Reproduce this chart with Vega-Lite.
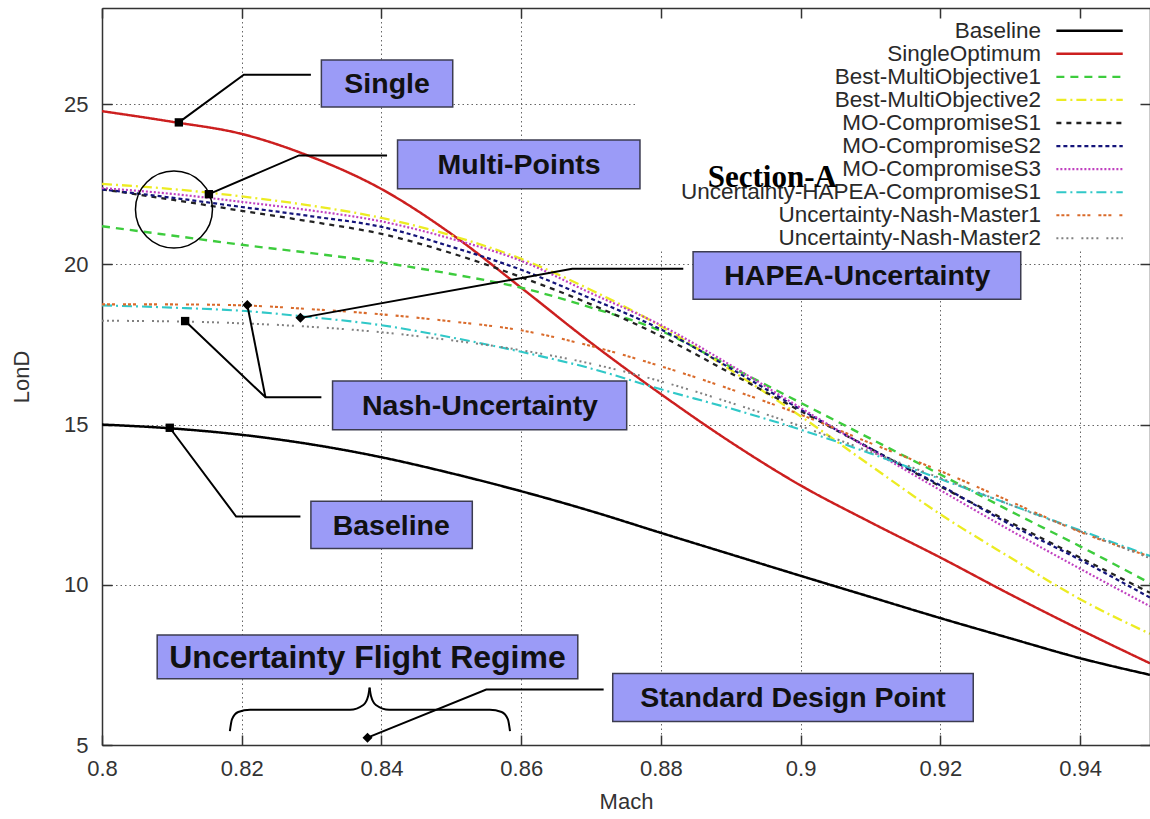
{
  "$schema": "https://vega.github.io/schema/vega-lite/v6.json",
  "width": 1048,
  "height": 737,
  "autosize": {"type": "none"},
  "padding": {"left": 102, "top": 8, "right": 0, "bottom": 74},
  "background": "white",
  "config": {"view": {"stroke": null}, "font": "Liberation Sans"},
  "datasets": {
    "curves": [
      {"series":"Baseline","mach":0.8,"lond":15.0},{"series":"Baseline","mach":0.81,"lond":14.88},{"series":"Baseline","mach":0.82,"lond":14.68},{"series":"Baseline","mach":0.83,"lond":14.38},{"series":"Baseline","mach":0.84,"lond":13.98},{"series":"Baseline","mach":0.85,"lond":13.48},{"series":"Baseline","mach":0.86,"lond":12.92},{"series":"Baseline","mach":0.87,"lond":12.3},{"series":"Baseline","mach":0.88,"lond":11.62},{"series":"Baseline","mach":0.89,"lond":10.95},{"series":"Baseline","mach":0.9,"lond":10.28},{"series":"Baseline","mach":0.91,"lond":9.62},{"series":"Baseline","mach":0.92,"lond":8.96},{"series":"Baseline","mach":0.93,"lond":8.33},{"series":"Baseline","mach":0.94,"lond":7.71},{"series":"Baseline","mach":0.95,"lond":7.19},
      {"series":"SingleOptimum","mach":0.8,"lond":24.78},{"series":"SingleOptimum","mach":0.81,"lond":24.45},{"series":"SingleOptimum","mach":0.82,"lond":24.07},{"series":"SingleOptimum","mach":0.83,"lond":23.35},{"series":"SingleOptimum","mach":0.84,"lond":22.35},{"series":"SingleOptimum","mach":0.85,"lond":20.95},{"series":"SingleOptimum","mach":0.86,"lond":19.27},{"series":"SingleOptimum","mach":0.87,"lond":17.55},{"series":"SingleOptimum","mach":0.88,"lond":15.95},{"series":"SingleOptimum","mach":0.89,"lond":14.45},{"series":"SingleOptimum","mach":0.9,"lond":13.1},{"series":"SingleOptimum","mach":0.91,"lond":11.95},{"series":"SingleOptimum","mach":0.92,"lond":10.85},{"series":"SingleOptimum","mach":0.93,"lond":9.7},{"series":"SingleOptimum","mach":0.94,"lond":8.6},{"series":"SingleOptimum","mach":0.95,"lond":7.55},
      {"series":"Best-MultiObjective1","mach":0.8,"lond":21.19},{"series":"Best-MultiObjective1","mach":0.81,"lond":20.9},{"series":"Best-MultiObjective1","mach":0.82,"lond":20.61},{"series":"Best-MultiObjective1","mach":0.83,"lond":20.35},{"series":"Best-MultiObjective1","mach":0.84,"lond":20.06},{"series":"Best-MultiObjective1","mach":0.85,"lond":19.7},{"series":"Best-MultiObjective1","mach":0.86,"lond":19.27},{"series":"Best-MultiObjective1","mach":0.87,"lond":18.65},{"series":"Best-MultiObjective1","mach":0.88,"lond":17.92},{"series":"Best-MultiObjective1","mach":0.89,"lond":16.8},{"series":"Best-MultiObjective1","mach":0.9,"lond":15.68},{"series":"Best-MultiObjective1","mach":0.91,"lond":14.56},{"series":"Best-MultiObjective1","mach":0.92,"lond":13.44},{"series":"Best-MultiObjective1","mach":0.93,"lond":12.3},{"series":"Best-MultiObjective1","mach":0.94,"lond":11.2},{"series":"Best-MultiObjective1","mach":0.95,"lond":10.05},
      {"series":"Best-MultiObjective2","mach":0.8,"lond":22.51},{"series":"Best-MultiObjective2","mach":0.81,"lond":22.35},{"series":"Best-MultiObjective2","mach":0.82,"lond":22.12},{"series":"Best-MultiObjective2","mach":0.83,"lond":21.83},{"series":"Best-MultiObjective2","mach":0.84,"lond":21.45},{"series":"Best-MultiObjective2","mach":0.85,"lond":20.9},{"series":"Best-MultiObjective2","mach":0.86,"lond":20.17},{"series":"Best-MultiObjective2","mach":0.87,"lond":19.2},{"series":"Best-MultiObjective2","mach":0.88,"lond":18.07},{"series":"Best-MultiObjective2","mach":0.89,"lond":16.7},{"series":"Best-MultiObjective2","mach":0.9,"lond":15.26},{"series":"Best-MultiObjective2","mach":0.91,"lond":13.72},{"series":"Best-MultiObjective2","mach":0.92,"lond":12.2},{"series":"Best-MultiObjective2","mach":0.93,"lond":10.85},{"series":"Best-MultiObjective2","mach":0.94,"lond":9.55},{"series":"Best-MultiObjective2","mach":0.95,"lond":8.47},
      {"series":"MO-CompromiseS1","mach":0.8,"lond":22.34},{"series":"MO-CompromiseS1","mach":0.81,"lond":22.02},{"series":"MO-CompromiseS1","mach":0.82,"lond":21.67},{"series":"MO-CompromiseS1","mach":0.83,"lond":21.33},{"series":"MO-CompromiseS1","mach":0.84,"lond":20.95},{"series":"MO-CompromiseS1","mach":0.85,"lond":20.35},{"series":"MO-CompromiseS1","mach":0.86,"lond":19.6},{"series":"MO-CompromiseS1","mach":0.87,"lond":18.75},{"series":"MO-CompromiseS1","mach":0.88,"lond":17.76},{"series":"MO-CompromiseS1","mach":0.89,"lond":16.6},{"series":"MO-CompromiseS1","mach":0.9,"lond":15.42},{"series":"MO-CompromiseS1","mach":0.91,"lond":14.25},{"series":"MO-CompromiseS1","mach":0.92,"lond":13.07},{"series":"MO-CompromiseS1","mach":0.93,"lond":11.95},{"series":"MO-CompromiseS1","mach":0.94,"lond":10.85},{"series":"MO-CompromiseS1","mach":0.95,"lond":9.75},
      {"series":"MO-CompromiseS2","mach":0.8,"lond":22.34},{"series":"MO-CompromiseS2","mach":0.81,"lond":22.08},{"series":"MO-CompromiseS2","mach":0.82,"lond":21.79},{"series":"MO-CompromiseS2","mach":0.83,"lond":21.5},{"series":"MO-CompromiseS2","mach":0.84,"lond":21.17},{"series":"MO-CompromiseS2","mach":0.85,"lond":20.55},{"series":"MO-CompromiseS2","mach":0.86,"lond":19.83},{"series":"MO-CompromiseS2","mach":0.87,"lond":18.93},{"series":"MO-CompromiseS2","mach":0.88,"lond":17.97},{"series":"MO-CompromiseS2","mach":0.89,"lond":16.75},{"series":"MO-CompromiseS2","mach":0.9,"lond":15.47},{"series":"MO-CompromiseS2","mach":0.91,"lond":14.25},{"series":"MO-CompromiseS2","mach":0.92,"lond":13.1},{"series":"MO-CompromiseS2","mach":0.93,"lond":11.88},{"series":"MO-CompromiseS2","mach":0.94,"lond":10.78},{"series":"MO-CompromiseS2","mach":0.95,"lond":9.6},
      {"series":"MO-CompromiseS3","mach":0.8,"lond":22.38},{"series":"MO-CompromiseS3","mach":0.81,"lond":22.2},{"series":"MO-CompromiseS3","mach":0.82,"lond":21.95},{"series":"MO-CompromiseS3","mach":0.83,"lond":21.68},{"series":"MO-CompromiseS3","mach":0.84,"lond":21.34},{"series":"MO-CompromiseS3","mach":0.85,"lond":20.8},{"series":"MO-CompromiseS3","mach":0.86,"lond":20.11},{"series":"MO-CompromiseS3","mach":0.87,"lond":19.1},{"series":"MO-CompromiseS3","mach":0.88,"lond":18.1},{"series":"MO-CompromiseS3","mach":0.89,"lond":16.85},{"series":"MO-CompromiseS3","mach":0.9,"lond":15.52},{"series":"MO-CompromiseS3","mach":0.91,"lond":14.22},{"series":"MO-CompromiseS3","mach":0.92,"lond":12.95},{"series":"MO-CompromiseS3","mach":0.93,"lond":11.7},{"series":"MO-CompromiseS3","mach":0.94,"lond":10.5},{"series":"MO-CompromiseS3","mach":0.95,"lond":9.33},
      {"series":"Uncertainty-HAPEA-CompromiseS1","mach":0.8,"lond":18.72},{"series":"Uncertainty-HAPEA-CompromiseS1","mach":0.81,"lond":18.65},{"series":"Uncertainty-HAPEA-CompromiseS1","mach":0.82,"lond":18.55},{"series":"Uncertainty-HAPEA-CompromiseS1","mach":0.83,"lond":18.35},{"series":"Uncertainty-HAPEA-CompromiseS1","mach":0.84,"lond":18.1},{"series":"Uncertainty-HAPEA-CompromiseS1","mach":0.85,"lond":17.72},{"series":"Uncertainty-HAPEA-CompromiseS1","mach":0.86,"lond":17.27},{"series":"Uncertainty-HAPEA-CompromiseS1","mach":0.87,"lond":16.75},{"series":"Uncertainty-HAPEA-CompromiseS1","mach":0.88,"lond":16.1},{"series":"Uncertainty-HAPEA-CompromiseS1","mach":0.89,"lond":15.5},{"series":"Uncertainty-HAPEA-CompromiseS1","mach":0.9,"lond":14.84},{"series":"Uncertainty-HAPEA-CompromiseS1","mach":0.91,"lond":14.1},{"series":"Uncertainty-HAPEA-CompromiseS1","mach":0.92,"lond":13.3},{"series":"Uncertainty-HAPEA-CompromiseS1","mach":0.93,"lond":12.5},{"series":"Uncertainty-HAPEA-CompromiseS1","mach":0.94,"lond":11.7},{"series":"Uncertainty-HAPEA-CompromiseS1","mach":0.95,"lond":10.9},
      {"series":"Uncertainty-Nash-Master1","mach":0.8,"lond":18.75},{"series":"Uncertainty-Nash-Master1","mach":0.81,"lond":18.75},{"series":"Uncertainty-Nash-Master1","mach":0.82,"lond":18.72},{"series":"Uncertainty-Nash-Master1","mach":0.83,"lond":18.6},{"series":"Uncertainty-Nash-Master1","mach":0.84,"lond":18.44},{"series":"Uncertainty-Nash-Master1","mach":0.85,"lond":18.22},{"series":"Uncertainty-Nash-Master1","mach":0.86,"lond":17.94},{"series":"Uncertainty-Nash-Master1","mach":0.87,"lond":17.45},{"series":"Uncertainty-Nash-Master1","mach":0.88,"lond":16.82},{"series":"Uncertainty-Nash-Master1","mach":0.89,"lond":16.1},{"series":"Uncertainty-Nash-Master1","mach":0.9,"lond":15.31},{"series":"Uncertainty-Nash-Master1","mach":0.91,"lond":14.42},{"series":"Uncertainty-Nash-Master1","mach":0.92,"lond":13.55},{"series":"Uncertainty-Nash-Master1","mach":0.93,"lond":12.6},{"series":"Uncertainty-Nash-Master1","mach":0.94,"lond":11.65},{"series":"Uncertainty-Nash-Master1","mach":0.95,"lond":10.88},
      {"series":"Uncertainty-Nash-Master2","mach":0.8,"lond":18.24},{"series":"Uncertainty-Nash-Master2","mach":0.81,"lond":18.22},{"series":"Uncertainty-Nash-Master2","mach":0.82,"lond":18.16},{"series":"Uncertainty-Nash-Master2","mach":0.83,"lond":18.05},{"series":"Uncertainty-Nash-Master2","mach":0.84,"lond":17.88},{"series":"Uncertainty-Nash-Master2","mach":0.85,"lond":17.63},{"series":"Uncertainty-Nash-Master2","mach":0.86,"lond":17.32},{"series":"Uncertainty-Nash-Master2","mach":0.87,"lond":16.9},{"series":"Uncertainty-Nash-Master2","mach":0.88,"lond":16.35},{"series":"Uncertainty-Nash-Master2","mach":0.89,"lond":15.68},{"series":"Uncertainty-Nash-Master2","mach":0.9,"lond":14.95},{"series":"Uncertainty-Nash-Master2","mach":0.91,"lond":14.15},{"series":"Uncertainty-Nash-Master2","mach":0.92,"lond":13.33},{"series":"Uncertainty-Nash-Master2","mach":0.93,"lond":12.5},{"series":"Uncertainty-Nash-Master2","mach":0.94,"lond":11.67},{"series":"Uncertainty-Nash-Master2","mach":0.95,"lond":10.83}
    ],
    "legend": [
      {"series":"Baseline","rank":0},{"series":"SingleOptimum","rank":1},{"series":"Best-MultiObjective1","rank":2},{"series":"Best-MultiObjective2","rank":3},{"series":"MO-CompromiseS1","rank":4},{"series":"MO-CompromiseS2","rank":5},{"series":"MO-CompromiseS3","rank":6},{"series":"Uncertainty-HAPEA-CompromiseS1","rank":7},{"series":"Uncertainty-Nash-Master1","rank":8},{"series":"Uncertainty-Nash-Master2","rank":9}
    ],
    "boxes": [
      {"label":"Single","x1":0.8314,"x2":0.8502,"y1":24.91,"y2":26.38,"tx":0.8408,"ty":25.62},
      {"label":"Multi-Points","x1":0.8423,"x2":0.877,"y1":22.36,"y2":23.88,"tx":0.8597,"ty":23.1},
      {"label":"HAPEA-Uncertainty","x1":0.8846,"x2":0.9315,"y1":18.91,"y2":20.39,"tx":0.9081,"ty":19.63},
      {"label":"Nash-Uncertainty","x1":0.833,"x2":0.8751,"y1":14.84,"y2":16.36,"tx":0.8541,"ty":15.58},
      {"label":"Baseline","x1":0.8299,"x2":0.853,"y1":11.13,"y2":12.61,"tx":0.8414,"ty":11.85},
      {"label":"Uncertainty Flight Regime","x1":0.8079,"x2":0.8681,"y1":7.07,"y2":8.43,"tx":0.838,"ty":7.73},
      {"label":"Standard Design Point","x1":0.8731,"x2":0.9247,"y1":5.73,"y2":7.23,"tx":0.8989,"ty":6.46}
    ],
    "leaders": [
      {"id":"single","i":0,"x":0.811,"y":24.43},{"id":"single","i":1,"x":0.8203,"y":25.92},{"id":"single","i":2,"x":0.8299,"y":25.92},
      {"id":"multi","i":0,"x":0.8153,"y":22.19},{"id":"multi","i":1,"x":0.8282,"y":23.4},{"id":"multi","i":2,"x":0.8408,"y":23.4},
      {"id":"hapea","i":0,"x":0.8284,"y":18.33},{"id":"hapea","i":1,"x":0.8673,"y":19.86},{"id":"hapea","i":2,"x":0.8832,"y":19.86},
      {"id":"nash1","i":0,"x":0.8119,"y":18.23},{"id":"nash1","i":1,"x":0.8234,"y":15.85},{"id":"nash1","i":2,"x":0.8314,"y":15.85},
      {"id":"nash2","i":0,"x":0.8208,"y":18.73},{"id":"nash2","i":1,"x":0.8234,"y":15.85},
      {"id":"base","i":0,"x":0.8097,"y":14.9},{"id":"base","i":1,"x":0.8192,"y":12.13},{"id":"base","i":2,"x":0.8284,"y":12.13},
      {"id":"sdp","i":0,"x":0.838,"y":5.23},{"id":"sdp","i":1,"x":0.855,"y":6.73},{"id":"sdp","i":2,"x":0.8718,"y":6.73}
    ],
    "squares": [
      {"x":0.811,"y":24.43},{"x":0.8153,"y":22.19},{"x":0.8119,"y":18.23},{"x":0.8097,"y":14.9}
    ],
    "diamonds": [
      {"x":0.8284,"y":18.33},{"x":0.8208,"y":18.73},{"x":0.838,"y":5.23}
    ],
    "brace": [
      {"half":"L","i":0,"x":0.8183,"y":5.43},{"half":"L","i":1,"x":0.8186,"y":5.8},{"half":"L","i":2,"x":0.8195,"y":6.03},{"half":"L","i":3,"x":0.8212,"y":6.1},{"half":"L","i":4,"x":0.8355,"y":6.1},{"half":"L","i":5,"x":0.8374,"y":6.25},{"half":"L","i":6,"x":0.8381,"y":6.53},{"half":"L","i":7,"x":0.8383,"y":6.79},
      {"half":"R","i":0,"x":0.8383,"y":6.79},{"half":"R","i":1,"x":0.8385,"y":6.53},{"half":"R","i":2,"x":0.8392,"y":6.25},{"half":"R","i":3,"x":0.8411,"y":6.1},{"half":"R","i":4,"x":0.8555,"y":6.1},{"half":"R","i":5,"x":0.8572,"y":6.03},{"half":"R","i":6,"x":0.8581,"y":5.8},{"half":"R","i":7,"x":0.8584,"y":5.43}
    ]
  },
  "layer": [
    {
      "layer": [
        {
          "data": {"values": [{}]},
          "mark": {"type": "rect", "fill": "white"},
          "encoding": {
            "x": {"datum": 0.8763, "type": "quantitative", "axis": {"orient": "top", "labels": false, "title": null, "grid": false, "values": [0.8,0.82,0.84,0.86,0.88,0.9,0.92,0.94], "tickSize": -10, "tickColor": "#333", "tickWidth": 1.5, "domainColor": "#333", "domainWidth": 1.5, "zindex": 1}},
            "x2": {"datum": 0.95},
            "y": {"datum": 20.45, "type": "quantitative", "axis": {"orient": "right", "labels": false, "title": null, "grid": false, "values": [5,10,15,20,25], "tickSize": -10, "tickColor": "#333", "tickWidth": 1.5, "domainColor": "#333", "domainWidth": 1.5, "zindex": 1}},
            "y2": {"datum": 28}
          }
        },
        {
          "data": {"name": "curves"},
          "mark": {"type": "line", "interpolate": "monotone", "clip": true},
          "encoding": {
            "x": {"field": "mach", "type": "quantitative", "scale": {"domain": [0.8, 0.95], "nice": false, "zero": false},
              "axis": {"orient": "bottom", "values": [0.8,0.82,0.84,0.86,0.88,0.9,0.92,0.94], "format": "~g", "title": "Mach", "grid": true, "gridDash": [1.5, 3], "gridColor": "#666", "gridWidth": 1, "tickSize": -10, "tickColor": "#333", "tickWidth": 1.5, "domainColor": "#333", "domainWidth": 1.5, "labelFontSize": 22, "labelColor": "#333", "labelPadding": 23, "labelFlush": false, "labelOverlap": false, "titleFontSize": 22, "titleFontWeight": "normal", "titleColor": "#333", "titlePadding": 12}},
            "y": {"field": "lond", "type": "quantitative", "scale": {"domain": [5, 28], "nice": false, "zero": false},
              "axis": {"orient": "left", "values": [5,10,15,20,25], "title": "LonD", "grid": true, "gridDash": [1.5, 3], "gridColor": "#666", "gridWidth": 1, "tickSize": -10, "tickColor": "#333", "tickWidth": 1.5, "domainColor": "#333", "domainWidth": 1.5, "labelFontSize": 22, "labelColor": "#333", "labelPadding": 24, "labelFlush": false, "labelOverlap": false, "titleFontSize": 22, "titleFontWeight": "normal", "titleColor": "#333", "titlePadding": 30}},
            "color": {"field": "series", "type": "nominal", "legend": null,
              "scale": {"domain": ["Baseline","SingleOptimum","Best-MultiObjective1","Best-MultiObjective2","MO-CompromiseS1","MO-CompromiseS2","MO-CompromiseS3","Uncertainty-HAPEA-CompromiseS1","Uncertainty-Nash-Master1","Uncertainty-Nash-Master2"],
                "range": ["#000000","#cc1f1f","#3dcc3d","#ecec22","#222222","#14147a","#c040c0","#30c8c8","#d96a2a","#808080"]}},
            "strokeDash": {"field": "series", "type": "nominal", "legend": null,
              "scale": {"domain": ["Baseline","SingleOptimum","Best-MultiObjective1","Best-MultiObjective2","MO-CompromiseS1","MO-CompromiseS2","MO-CompromiseS3","Uncertainty-HAPEA-CompromiseS1","Uncertainty-Nash-Master1","Uncertainty-Nash-Master2"],
                "range": [[1,0],[1,0],[8,6],[10,4,2,4],[5,5],[4,3],[2,2],[10,4,2,4],[3,2,3,2,3,8],[2,3,2,3,2,3,2,8]]}},
            "strokeWidth": {"field": "series", "type": "ordinal", "legend": null,
              "scale": {"domain": ["Baseline","SingleOptimum","Best-MultiObjective1","Best-MultiObjective2","MO-CompromiseS1","MO-CompromiseS2","MO-CompromiseS3","Uncertainty-HAPEA-CompromiseS1","Uncertainty-Nash-Master1","Uncertainty-Nash-Master2"],
                "range": [2.5,2,2.2,2.2,2,2.5,2,2.2,2.2,2.2]}}
          }
        },
        {
          "data": {"name": "boxes"},
          "mark": {"type": "rect", "fill": "#9b9bf7", "stroke": "#3c3c50", "strokeWidth": 1.5},
          "encoding": {
            "x": {"field": "x1", "type": "quantitative", "axis": null},
            "x2": {"field": "x2"},
            "y": {"field": "y1", "type": "quantitative", "axis": null},
            "y2": {"field": "y2"}
          }
        },
        {
          "data": {"name": "boxes"},
          "transform": [{"filter": "datum.label != 'Uncertainty Flight Regime'"}],
          "mark": {"type": "text", "fontSize": 28.5, "fontWeight": "bold", "align": "center", "baseline": "middle", "color": "#111"},
          "encoding": {
            "x": {"field": "tx", "type": "quantitative", "axis": null},
            "y": {"field": "ty", "type": "quantitative", "axis": null},
            "text": {"field": "label"}
          }
        },
        {
          "data": {"name": "boxes"},
          "transform": [{"filter": "datum.label == 'Uncertainty Flight Regime'"}],
          "mark": {"type": "text", "fontSize": 32, "fontWeight": "bold", "align": "center", "baseline": "middle", "color": "#111"},
          "encoding": {
            "x": {"field": "tx", "type": "quantitative", "axis": null},
            "y": {"field": "ty", "type": "quantitative", "axis": null},
            "text": {"field": "label"}
          }
        },
        {
          "data": {"name": "leaders"},
          "mark": {"type": "line", "color": "#000", "strokeWidth": 2},
          "encoding": {
            "x": {"field": "x", "type": "quantitative", "axis": null},
            "y": {"field": "y", "type": "quantitative", "axis": null},
            "detail": {"field": "id"},
            "order": {"field": "i"}
          }
        },
        {
          "data": {"name": "squares"},
          "mark": {"type": "point", "shape": "square", "filled": true, "color": "#000", "size": 70, "opacity": 1},
          "encoding": {
            "x": {"field": "x", "type": "quantitative", "axis": null},
            "y": {"field": "y", "type": "quantitative", "axis": null}
          }
        },
        {
          "data": {"name": "diamonds"},
          "mark": {"type": "point", "shape": "diamond", "filled": true, "color": "#000", "size": 100, "opacity": 1},
          "encoding": {
            "x": {"field": "x", "type": "quantitative", "axis": null},
            "y": {"field": "y", "type": "quantitative", "axis": null}
          }
        },
        {
          "data": {"values": [{"x": 0.8103, "y": 21.71}]},
          "mark": {"type": "point", "shape": "circle", "filled": false, "stroke": "#000", "strokeWidth": 1.5, "size": 5929, "opacity": 1},
          "encoding": {
            "x": {"field": "x", "type": "quantitative", "axis": null},
            "y": {"field": "y", "type": "quantitative", "axis": null}
          }
        },
        {
          "data": {"name": "brace"},
          "mark": {"type": "line", "interpolate": "monotone", "color": "#000", "strokeWidth": 2},
          "encoding": {
            "x": {"field": "x", "type": "quantitative", "axis": null},
            "y": {"field": "y", "type": "quantitative", "axis": null},
            "detail": {"field": "half"},
            "order": {"field": "i"}
          }
        }
      ],
      "resolve": {"axis": {"x": "independent", "y": "independent"}}
    },
    {
      "data": {"name": "legend"},
      "layer": [
        {
          "mark": {"type": "rule"},
          "encoding": {
            "x": {"datum": 0.9366, "type": "quantitative", "axis": null},
            "x2": {"datum": 0.9461},
            "y": {"field": "rank", "type": "quantitative", "axis": null, "scale": {"domain": [-0.984, 30.96], "reverse": true, "nice": false, "zero": false}},
            "color": {"field": "series", "type": "nominal", "legend": null},
            "strokeDash": {"field": "series", "type": "nominal", "legend": null},
            "strokeWidth": {"field": "series", "type": "ordinal", "legend": null}
          }
        },
        {
          "mark": {"type": "text", "align": "right", "baseline": "middle", "fontSize": 22.5, "color": "#2a2a2a"},
          "encoding": {
            "x": {"datum": 0.9344, "type": "quantitative", "axis": null},
            "y": {"field": "rank", "type": "quantitative", "axis": null, "scale": {"domain": [-0.984, 30.96], "reverse": true, "nice": false, "zero": false}},
            "text": {"field": "series"}
          }
        }
      ]
    },
    {
      "data": {"values": [{"label": "Section-A", "x": 0.8867, "y": 22.42}]},
      "mark": {"type": "text", "font": "Liberation Serif", "fontWeight": "bold", "fontSize": 31, "align": "left", "baseline": "alphabetic", "color": "#000"},
      "encoding": {
        "x": {"field": "x", "type": "quantitative", "axis": null},
        "y": {"field": "y", "type": "quantitative", "axis": null, "scale": {"domain": [5, 28], "nice": false, "zero": false}},
        "text": {"field": "label"}
      }
    }
  ],
  "resolve": {"scale": {"y": "independent"}, "axis": {"x": "independent", "y": "independent"}}
}
